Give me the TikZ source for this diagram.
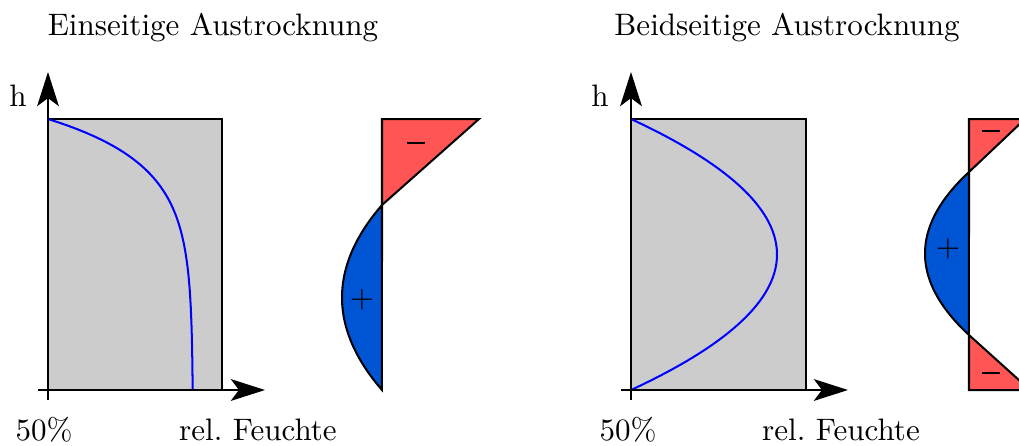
\documentclass[tikz,border=0pt]{standalone}
\usetikzlibrary{arrows.meta}
\definecolor{wallgray}{HTML}{CCCCCC}
\definecolor{negred}{HTML}{FF5555}
\definecolor{posblue}{HTML}{0055D4}
\newcommand{\minusbar}{\rule{5.5pt}{0.8pt}}
\begin{document}
\frenchspacing
\begin{tikzpicture}[x=0.322pt,y=-0.322pt,
  axisarrow/.style={line width=0.65pt,-{Stealth[length=11pt,width=7pt,inset=2.6pt]}},
  wallbox/.style={fill=wallgray,draw=black,line width=0.65pt},
  moistcurve/.style={blue,line width=0.65pt},
  negarea/.style={fill=negred,draw=black,line width=0.65pt,line join=miter},
  posarea/.style={fill=posblue,draw=black,line width=0.65pt},
  lbl/.style={anchor=base,inner sep=0pt},
  signlbl/.style={inner sep=0pt}]
\useasboundingbox (0,0) rectangle (1019,445);
% ---------- left: one-sided drying ----------
\node[lbl] (t1) at (213,35) {Einseitige Austrocknung};
\draw[wallbox] (48,119) rectangle (222,390);
\draw[moistcurve] plot[domain=0:1,samples=80] ({193-145*exp(-6*\x)},{119+271*\x});
\coordinate (o1a) at (48,400); \coordinate (y1) at (48,72);
\coordinate (o1b) at (38,390); \coordinate (x1) at (265,390);
\draw[axisarrow] (o1a) -- (y1);
\draw[axisarrow] (o1b) -- (x1);
\node[lbl] (h1) at (18,106) {h};
\node[lbl] (p1) at (44,440) {50\%};
\node[lbl] (f1) at (258,440) {rel. Feuchte};
% distribution
\draw[negarea] (382,119) -- (479,119) -- (382,205) -- cycle;
\draw[posarea] plot[domain=-1:1,samples=60] ({382-40*(1-\x*\x)},{297.5+92.5*\x}) -- cycle;
\draw[line width=0.65pt] (382,119) -- (382,390);
\node[signlbl] (m1) at (416,143) {\minusbar};
\node[signlbl] (s1) at (362,300) {$+$};
% ---------- right: two-sided drying ----------
\node[lbl] (t2) at (787,35) {Beidseitige Austrocknung};
\draw[wallbox] (631,119) rectangle (806,390);
\draw[moistcurve] plot[domain=-1:1,samples=80] ({631+146*(1-\x*\x)},{254.5+135.5*\x});
\coordinate (o2a) at (631,400); \coordinate (y2) at (631,72);
\coordinate (o2b) at (621,390); \coordinate (x2) at (848,390);
\draw[axisarrow] (o2a) -- (y2);
\draw[axisarrow] (o2b) -- (x2);
\node[lbl] (h2) at (600,106) {h};
\node[lbl] (p2) at (628,440) {50\%};
\node[lbl] (f2) at (841,440) {rel. Feuchte};
% distribution
\draw[negarea] (969,119) -- (1025,119) -- (969,172) -- cycle;
\draw[negarea] (969,335) -- (1030,390) -- (969,390) -- cycle;
\draw[posarea] plot[domain=-1:1,samples=60] ({969-44*(1-\x*\x)},{253.5+81.5*\x}) -- cycle;
\draw[line width=0.65pt] (969,119) -- (969,390);
\node[signlbl] (m2) at (991,131) {\minusbar};
\node[signlbl] (m3) at (991,373) {\minusbar};
\node[signlbl] (s2) at (948,249) {$+$};
\end{tikzpicture}
\end{document}
